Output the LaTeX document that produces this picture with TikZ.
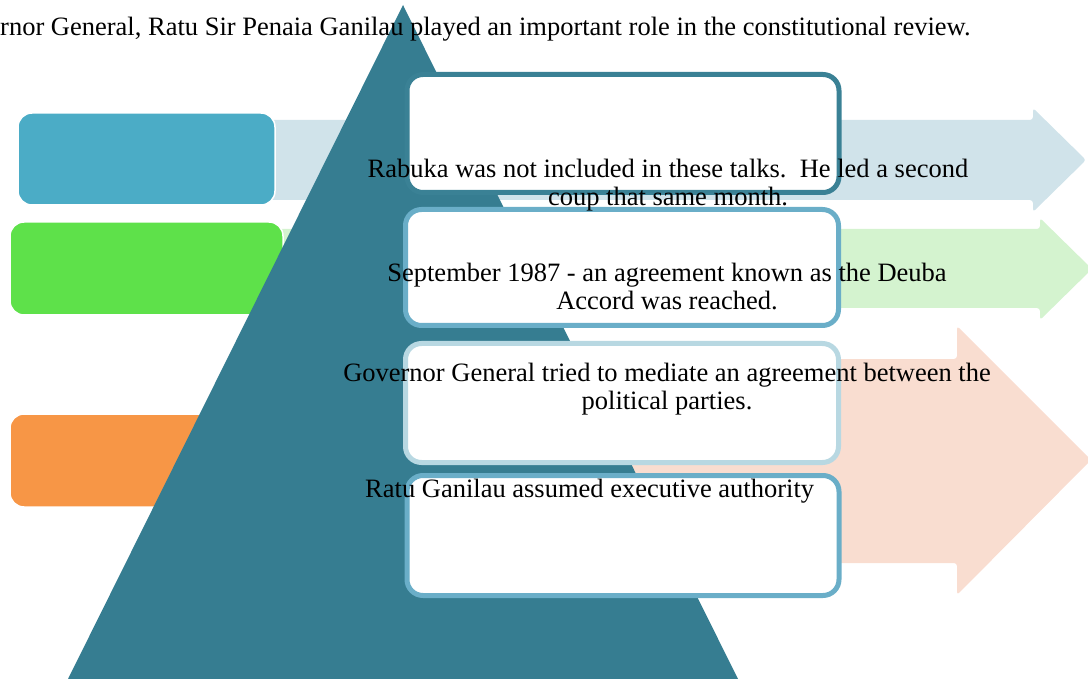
\documentclass[tikz,border=0pt]{standalone}
\usepackage{fontspec}
\setmainfont{Liberation Serif}
\definecolor{tri}{HTML}{367D91}
\definecolor{bordA}{HTML}{3A8195}
\definecolor{bordB}{HTML}{6AAEC8}
\definecolor{bordC}{HTML}{B8D8E2}
\definecolor{rblue}{HTML}{4BACC6}
\definecolor{rgreen}{HTML}{5EE14A}
\definecolor{rorange}{HTML}{F79646}
\definecolor{ablue}{HTML}{D0E3EA}
\definecolor{agreen}{HTML}{D4F3CF}
\definecolor{aorange}{HTML}{F9DDD0}
\tikzset{
  leftbox/.style={draw=white, line width=1.5pt, rounded corners=14pt, inner sep=0pt},
  whitebox/.style={draw, fill=white, line width=5pt, rounded corners=16pt, inner sep=0pt},
  arrowshape/.style={rounded corners=3pt},
  txt/.style={font=\fontsize{26.5}{28}\selectfont, align=center, inner sep=0pt, text=black}
}
\begin{document}
\begin{tikzpicture}[x=1pt,y=-1pt]
\useasboundingbox (0,0) rectangle (1088,679);
% background arrows
\fill[ablue, arrowshape] (270,120) -- (1033,120) -- (1033,108) -- (1086,160) -- (1033,212) -- (1033,200) -- (270,200) -- cycle;
\fill[agreen, arrowshape] (270,229) -- (1040,229) -- (1040,218) -- (1092,269) -- (1040,320) -- (1040,308) -- (270,308) -- cycle;
\fill[aorange, arrowshape] (300,359) -- (957,359) -- (957,326) -- (1091,460) -- (957,595) -- (957,563) -- (300,563) -- cycle;
% left boxes
\node[leftbox, fill=rblue, minimum width=257pt, minimum height=92pt] (lb1) at (146.5,159) {};
\node[leftbox, fill=rgreen, minimum width=273pt, minimum height=93pt] (lb2) at (146.5,268.5) {};
\node[leftbox, fill=rorange, minimum width=273pt, minimum height=93pt] (lb3) at (146.5,460.5) {};
% triangle
\fill[tri] (403,5) -- (738,679) -- (68,679) -- cycle;
% white boxes
\node[whitebox, draw=bordA, minimum width=432pt, minimum height=118pt] (w1) at (623,133.5) {};
\node[whitebox, draw=bordB, minimum width=433pt, minimum height=116pt] (w2) at (622,267.5) {};
\node[whitebox, draw=bordC, minimum width=433pt, minimum height=119pt] (w3) at (622,403) {};
\node[whitebox, draw=bordB, minimum width=432pt, minimum height=120pt] (w4) at (623,535.5) {};
% texts
\node[txt, anchor=base west] (title) at (0,36) {rnor General, Ratu Sir Penaia Ganilau played an important role in the constitutional review.};
\node[txt] (t1) at (668,185) {Rabuka was not included in these talks.\ \ He led a second\\coup that same month.};
\node[txt] (t2) at (667,286) {September 1987 - an agreement known as the Deuba\\Accord was reached.};
\node[txt] (t3) at (667,389) {Governor General tried to mediate an agreement between the\\political parties.};
\node[txt, anchor=west] (t4) at (365,491) {Ratu Ganilau assumed executive authority};
\end{tikzpicture}
\end{document}
